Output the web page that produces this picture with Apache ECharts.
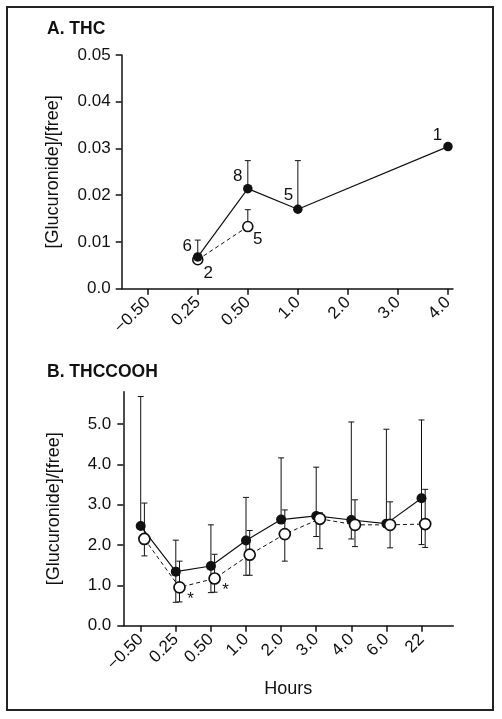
<!DOCTYPE html>
<html>
<head>
<meta charset="utf-8">
<script src="https://cdn.jsdelivr.net/npm/echarts@6/dist/echarts.min.js"></script>
<style>html,body{margin:0;padding:0;background:#fff;}#c{width:502px;height:719px;}</style>
</head>
<body>
<div id="c"></div>
<script>
// ---------- Panel A: THC ----------
const thcHours = ['\u22120.50', '0.25', '0.50', '1.0', '2.0', '3.0', '4.0'];
const thcFilled = [null, 0.0068, 0.0214, 0.0170, null, null, 0.0304];
const thcFilledUpper = [null, 0.0104, 0.0274, 0.0274, null, null, null];
const thcFilledN = [null, 6, 8, 5, null, null, 1];
const thcOpen = [null, 0.0062, 0.0133, null, null, null, null];
const thcOpenUpper = [null, null, 0.0169, null, null, null, null];
const thcOpenN = [null, 2, 5, null, null, null, null];
const thcYTicks = [0, 0.01, 0.02, 0.03, 0.04, 0.05];

// ---------- Panel B: THCCOOH ----------
const cooHours = ['\u22120.50', '0.25', '0.50', '1.0', '2.0', '3.0', '4.0', '6.0', '22'];
const cooFilled = [2.47, 1.34, 1.48, 2.11, 2.63, 2.72, 2.62, 2.53, 3.16];
const cooFilledUpper = [5.68, 2.12, 2.50, 3.18, 4.16, 3.93, 5.05, 4.87, 5.10];
const cooFilledLower = [null, 0.58, 0.82, 1.25, null, 2.21, 2.15, null, 2.01];
const cooOpen = [2.15, 0.95, 1.17, 1.76, 2.27, 2.65, 2.50, 2.50, 2.52];
const cooOpenUpper = [3.04, 1.60, 1.77, 2.36, 2.87, 2.80, 3.12, 3.07, 3.38];
const cooOpenLower = [1.73, 0.59, 0.83, 1.25, 1.60, 1.91, 1.96, 1.93, 1.94];
const cooMarks = ['', '*', '*', '', '', '', '', '', ''];
const cooYTicks = [0, 1, 2, 3, 4, 5];

const FONT = '"Liberation Sans", Arial, Helvetica, sans-serif';
const INK = '#111';
const OPEN_SHIFT = 0.105; // horizontal nudge of open symbols in panel B (style)

function errItem(params, api) {
  const x = api.value(0), m = api.value(1), lo = api.value(2), hi = api.value(3);
  const pl = api.coord([x, lo]), ph = api.coord([x, hi]);
  const w = 3;
  const st = { stroke: INK, lineWidth: 1 };
  const ch = [{ type: 'line', shape: { x1: pl[0], y1: pl[1], x2: ph[0], y2: ph[1] }, style: st }];
  if (hi !== m) ch.push({ type: 'line', shape: { x1: ph[0] - w, y1: ph[1], x2: ph[0] + w, y2: ph[1] }, style: st });
  if (lo !== m) ch.push({ type: 'line', shape: { x1: pl[0] - w, y1: pl[1], x2: pl[0] + w, y2: pl[1] }, style: st });
  return { type: 'group', children: ch };
}

function errData(vals, lower, upper, shift) {
  const out = [];
  vals.forEach((v, i) => {
    if (v == null) return;
    const lo = lower && lower[i] != null ? lower[i] : v;
    const hi = upper && upper[i] != null ? upper[i] : v;
    if (lo === v && hi === v) return;
    out.push([i + shift, v, lo, hi]);
  });
  return out;
}

function pts(vals, shift) {
  return vals.map((v, i) => (v == null ? [i + shift, null] : [i + shift, v]));
}

const labelA = { fontFamily: FONT, fontSize: 17, color: INK };
const filledOffA = { 1: [-10.5, -11], 2: [-10, -12.5], 3: [-9.5, -14], 6: [-10.5, -11] };
const openOffA = { 1: [10.5, 13.5], 2: [10, 12.5] };

function labeled(vals, ns, offs) {
  return vals.map((v, i) => {
    if (v == null) return [i, null];
    return {
      value: [i, v],
      label: { show: ns[i] != null, formatter: String(ns[i]), position: 'inside', offset: offs[i] || [0, 0], ...labelA }
    };
  });
}

const axisLine = { show: true, onZero: false, lineStyle: { color: INK, width: 1.5 } };
const axisTickY = { show: true, length: 6, lineStyle: { color: INK, width: 1.5 } };
const tickFont = { fontFamily: FONT, fontSize: 17, color: INK };
const nameFont = { fontFamily: FONT, fontSize: 18, color: INK };

const option = {
  animation: false,
  backgroundColor: '#fff',
  graphic: [
    { type: 'rect', shape: { x: 7, y: 7, width: 486, height: 703 }, style: { fill: 'none', stroke: '#222', lineWidth: 2 } },
    { type: 'text', x: 47, y: 29, style: { text: 'A. THC', font: 'bold 17.5px ' + FONT, fill: INK, textVerticalAlign: 'middle' } },
    { type: 'text', x: 47, y: 372, style: { text: 'B. THCCOOH', font: 'bold 17.5px ' + FONT, fill: INK, textVerticalAlign: 'middle' } }
  ],
  grid: [
    { left: 121.7, right: 49, top: 55, bottom: 430.3 },
    { left: 123.3, right: 48.7, top: 391.7, bottom: 93.3 }
  ],
  xAxis: [
    {
      gridIndex: 0, type: 'value', min: -0.52, max: 6.1,
      splitLine: { show: false }, axisLine: axisLine,
      axisTick: { show: true, length: 6, customValues: thcHours.map((_, i) => i), lineStyle: { color: INK, width: 1.5 } },
      axisLabel: { customValues: thcHours.map((_, i) => i), formatter: v => thcHours[Math.round(v)], rotate: 45, margin: 11, ...tickFont }
    },
    {
      gridIndex: 1, type: 'value', min: -0.496, max: 8.906,
      splitLine: { show: false }, axisLine: axisLine,
      axisTick: { show: true, length: 6, customValues: cooHours.map((_, i) => i), lineStyle: { color: INK, width: 1.5 } },
      axisLabel: { customValues: cooHours.map((_, i) => i), formatter: v => cooHours[Math.round(v)], rotate: 45, margin: 11, ...tickFont },
      name: 'Hours', nameLocation: 'middle', nameGap: 54,
      nameTextStyle: nameFont
    }
  ],
  yAxis: [
    {
      gridIndex: 0, type: 'value', min: 0, max: 0.05,
      splitLine: { show: false }, axisLine: axisLine,
      axisTick: { ...axisTickY, customValues: thcYTicks },
      axisLabel: { customValues: thcYTicks, formatter: v => (v === 0 ? '0.0' : v.toFixed(2)), margin: 11, ...tickFont },
      name: '[Glucuronide]/[free]', nameLocation: 'middle', nameGap: 60, nameRotate: 90,
      nameTextStyle: nameFont
    },
    {
      gridIndex: 1, type: 'value', min: 0, max: 5.8,
      splitLine: { show: false }, axisLine: axisLine,
      axisTick: { ...axisTickY, customValues: cooYTicks },
      axisLabel: { customValues: cooYTicks, formatter: v => v.toFixed(1), margin: 12, ...tickFont },
      name: '[Glucuronide]/[free]', nameLocation: 'middle', nameGap: 60, nameRotate: 90,
      nameTextStyle: nameFont
    }
  ],
  series: [
    { type: 'custom', xAxisIndex: 0, yAxisIndex: 0, renderItem: errItem, data: errData(thcFilled, null, thcFilledUpper, 0), z: 1, encode: { x: 0, y: [1, 2, 3] } },
    { type: 'custom', xAxisIndex: 0, yAxisIndex: 0, renderItem: errItem, data: errData(thcOpen, null, thcOpenUpper, 0), z: 1, encode: { x: 0, y: [1, 2, 3] } },
    {
      type: 'line', xAxisIndex: 0, yAxisIndex: 0, connectNulls: true, z: 2,
      data: labeled(thcOpen, thcOpenN, openOffA),
      symbol: 'circle', symbolSize: 10,
      itemStyle: { color: '#fff', borderColor: INK, borderWidth: 1.6 },
      lineStyle: { color: INK, width: 1, type: [4, 3] }
    },
    {
      type: 'line', xAxisIndex: 0, yAxisIndex: 0, connectNulls: true, z: 3,
      data: labeled(thcFilled, thcFilledN, filledOffA),
      symbol: 'circle', symbolSize: 9.5,
      itemStyle: { color: INK, borderColor: INK, borderWidth: 0 },
      lineStyle: { color: INK, width: 1.2 }
    },
    { type: 'custom', xAxisIndex: 1, yAxisIndex: 1, renderItem: errItem, data: errData(cooFilled, cooFilledLower, cooFilledUpper, 0), z: 1, encode: { x: 0, y: [1, 2, 3] } },
    { type: 'custom', xAxisIndex: 1, yAxisIndex: 1, renderItem: errItem, data: errData(cooOpen, cooOpenLower, cooOpenUpper, OPEN_SHIFT), z: 1, encode: { x: 0, y: [1, 2, 3] } },
    {
      type: 'line', xAxisIndex: 1, yAxisIndex: 1, z: 2,
      data: pts(cooFilled, 0),
      symbol: 'circle', symbolSize: 10,
      itemStyle: { color: INK, borderColor: INK, borderWidth: 0 },
      lineStyle: { color: INK, width: 1.2 }
    },
    {
      type: 'line', xAxisIndex: 1, yAxisIndex: 1, z: 3,
      data: cooOpen.map((v, i) => ({
        value: [i + OPEN_SHIFT, v],
        label: { show: cooMarks[i] !== '', formatter: cooMarks[i], position: 'inside', offset: [11, 12], fontFamily: FONT, fontSize: 17, color: INK }
      })),
      symbol: 'circle', symbolSize: 11,
      itemStyle: { color: '#fff', borderColor: INK, borderWidth: 1.7 },
      lineStyle: { color: INK, width: 1, type: [4, 3] }
    }
  ]
};

const chart = echarts.init(document.getElementById('c'), null, { renderer: 'canvas' });
chart.setOption(option);
</script>
</body>
</html>
